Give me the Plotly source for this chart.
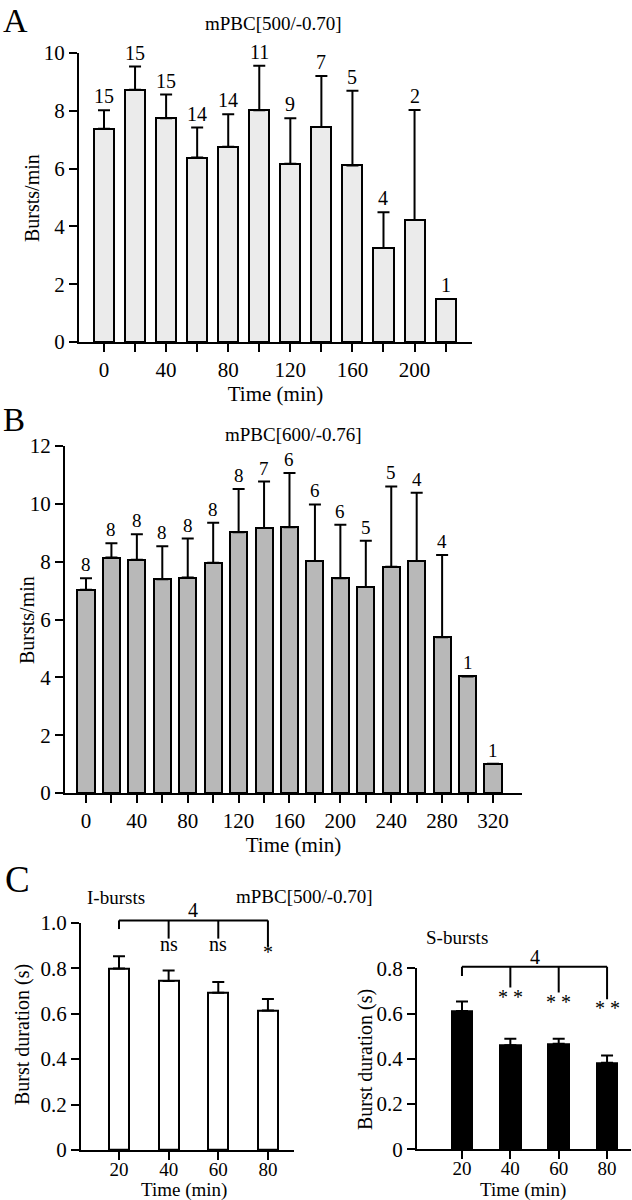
import plotly.graph_objects as go

FONT = "Liberation Serif"

# Panel A: mPBC[500/-0.70], burst rate over time
a_time = [0, 20, 40, 60, 80, 100, 120, 140, 160, 180, 200, 220]
a_rate = [7.38, 8.73, 7.74, 6.38, 6.76, 8.02, 6.17, 7.44, 6.11, 3.25, 4.22, 1.49]
a_sem = [0.64, 0.80, 0.82, 1.04, 1.12, 1.54, 1.57, 1.76, 2.58, 1.24, 3.81, 0]
a_n = [15, 15, 15, 14, 14, 11, 9, 7, 5, 4, 2, 1]

# Panel B: mPBC[600/-0.76]
b_time = [0, 20, 40, 60, 80, 100, 120, 140, 160, 180, 200, 220, 240, 260, 280, 300, 320]
b_rate = [7.03, 8.14, 8.07, 7.39, 7.45, 7.96, 9.02, 9.16, 9.19, 8.02, 7.43, 7.12, 7.82, 8.02, 5.39, 4.03, 1.01]
b_sem = [0.40, 0.50, 0.88, 1.14, 1.35, 1.39, 1.49, 1.61, 1.88, 1.96, 1.85, 1.60, 2.78, 2.36, 2.84, 0, 0]
b_n = [8, 8, 8, 8, 8, 8, 8, 7, 6, 6, 6, 5, 5, 4, 4, 1, 1]

# Panel C: burst duration, mPBC[500/-0.70]
c_time = [20, 40, 60, 80]
i_dur = [0.798, 0.743, 0.692, 0.614]
i_sem = [0.054, 0.047, 0.047, 0.050]
i_sig = ["", "ns", "ns", "*"]
i_sig_y = [0, 0.905, 0.905, 0.872]
i_top, i_drop = 1.01, [0.972, 0.93, 0.93, 0.894]
s_dur = [0.611, 0.460, 0.466, 0.382]
s_sem = [0.042, 0.029, 0.023, 0.033]
s_sig = ["", "* *", "* *", "* *"]
s_sig_y = [0, 0.672, 0.650, 0.623]
s_top, s_drop = 0.807, [0.766, 0.715, 0.693, 0.663]
c_n = 4

W, H = 632, 1200


def px(x):
    return x / W


def py(y):
    return 1 - y / H


def bars(x, y, sem, color, width, xa, ya):
    return go.Bar(
        x=x, y=y, width=width, xaxis=xa, yaxis=ya,
        marker=dict(color=color, line=dict(color="black", width=2)),
        error_y=dict(type="data", symmetric=False, array=sem,
                     arrayminus=[0] * len(sem), color="black",
                     thickness=2, width=6, visible=True),
        showlegend=False, hoverinfo="x+y",
    )


def bracket_trace(top, drops, xa, ya):
    xs, ys = [c_time[0], c_time[-1], None], [top, top, None]
    for t, d in zip(c_time, drops):
        xs += [t, t, None]
        ys += [top, d, None]
    return go.Scatter(x=xs, y=ys, mode="lines", xaxis=xa, yaxis=ya,
                      line=dict(color="black", width=2),
                      showlegend=False, hoverinfo="skip")


fig = go.Figure()
fig.add_trace(bars(a_time, a_rate, a_sem, "#ebebeb", 12.9, "x", "y"))
fig.add_trace(bars(b_time, b_rate, b_sem, "#b8b8b8", 13.4, "x2", "y2"))
fig.add_trace(bars(c_time, i_dur, i_sem, "white", 8.0, "x3", "y3"))
fig.add_trace(bars(c_time, s_dur, s_sem, "black", 8.6, "x4", "y4"))
# brackets sit on invisible overlay axes so they are not clipped at the top of the y range
fig.add_trace(bracket_trace(i_top, i_drop, "x5", "y5"))
fig.add_trace(bracket_trace(s_top, s_drop, "x6", "y6"))

axis_common = dict(
    showline=True, linecolor="black", linewidth=2, ticks="outside",
    ticklen=8, tickwidth=2, tickcolor="black", showgrid=False,
    zeroline=False, tickfont=dict(family=FONT, size=21, color="black"),
    fixedrange=True, automargin=False,
)
xtitle = dict(text="Time (min)", font=dict(family=FONT, size=21, color="black"), standoff=1)
# panel C x axes are tight against the bottom edge: smaller labels, title as annotation
c_xaxis = dict(axis_common, tickfont=dict(family=FONT, size=19, color="black"),
               ticklabelstandoff=-7, tickvals=c_time)
hidden = dict(visible=False, fixedrange=True, automargin=False)


def lab(vals, step):
    return [str(v) if v % step == 0 else "" for v in vals]


# pixel geometry of C panels (y of 0 and of top tick)
c3_y0, c3_y1, c3_top = 1150, 922.7, 1.0
c4_y0, c4_y1, c4_top = 1149.3, 968.3, 0.8
ov_top = 870
c3_scale = (c3_y0 - c3_y1) / c3_top
c4_scale = (c4_y0 - c4_y1) / c4_top

fig.update_layout(
    width=W, height=H, autosize=False,
    margin=dict(l=0, r=0, t=0, b=0, pad=0, autoexpand=False),
    paper_bgcolor="white", plot_bgcolor="rgba(0,0,0,0)",
    font=dict(family=FONT, color="black"),
    bargap=0,
    xaxis=dict(axis_common, domain=[px(79), px(472)], range=[-16.1, 237],
               anchor="y", tickvals=a_time, ticktext=lab(a_time, 40), title=xtitle),
    yaxis=dict(axis_common, domain=[py(342), py(53)], range=[0, 10],
               anchor="x", tickvals=[0, 2, 4, 6, 8, 10]),
    xaxis2=dict(axis_common, domain=[px(65), px(522)], range=[-16.5, 342.8],
                anchor="y2", tickvals=b_time, ticktext=lab(b_time, 40), title=xtitle),
    yaxis2=dict(axis_common, domain=[py(793), py(446)], range=[0, 12],
                anchor="x2", tickvals=[0, 2, 4, 6, 8, 10, 12]),
    xaxis3=dict(c_xaxis, domain=[px(81), px(294)], range=[4.7, 90.5], anchor="y3"),
    yaxis3=dict(axis_common, domain=[py(c3_y0), py(c3_y1)], range=[0, c3_top],
                anchor="x3", tickvals=[0, 0.2, 0.4, 0.6, 0.8, 1.0],
                ticktext=["0", "0.2", "0.4", "0.6", "0.8", "1.0"]),
    xaxis4=dict(c_xaxis, domain=[px(417), px(631)], range=[1.4, 89.9], anchor="y4"),
    yaxis4=dict(axis_common, domain=[py(c4_y0), py(c4_y1)], range=[0, c4_top],
                anchor="x4", tickvals=[0, 0.2, 0.4, 0.6, 0.8],
                ticktext=["0", "0.2", "0.4", "0.6", "0.8"]),
    xaxis5=dict(hidden, domain=[px(81), px(294)], range=[4.7, 90.5], anchor="y5"),
    yaxis5=dict(hidden, domain=[py(c3_y0), py(ov_top)],
                range=[0, (c3_y0 - ov_top) / c3_scale], anchor="x5"),
    xaxis6=dict(hidden, domain=[px(417), px(631)], range=[1.4, 89.9], anchor="y6"),
    yaxis6=dict(hidden, domain=[py(c4_y0), py(ov_top)],
                range=[0, (c4_y0 - ov_top) / c4_scale], anchor="x6"),
)

ann = []


def n_labels(x, y, sem, n, xr, yr, size):
    for xi, yi, si, ni in zip(x, y, sem, n):
        ann.append(dict(x=xi, y=yi + si, xref=xr, yref=yr, text=str(ni),
                        showarrow=False, yanchor="bottom", yshift=1,
                        font=dict(family=FONT, size=size, color="black")))


n_labels(a_time, a_rate, a_sem, a_n, "x", "y", 20)
n_labels(b_time, b_rate, b_sem, b_n, "x2", "y2", 19)


def sig_labels(sigs, sig_y, n_y, xr, yr):
    for t, s, sy in zip(c_time, sigs, sig_y):
        if s:
            ann.append(dict(x=t, y=sy, xref=xr, yref=yr, text=s, showarrow=False,
                            font=dict(family=FONT, size=20, color="black")))
    ann.append(dict(x=50, y=n_y, xref=xr, yref=yr, text=str(c_n), showarrow=False,
                    font=dict(family=FONT, size=20, color="black")))


sig_labels(i_sig, i_sig_y, 1.058, "x5", "y5")
sig_labels(s_sig, s_sig_y, 0.852, "x6", "y6")

texts = [
    ("A", 1, 21, 34, 0),
    ("B", 1, 420, 33, 0),
    ("C", 3, 879, 37, 0),
    ("mPBC[500/-0.70]", 273, 23, 19, 0),
    ("mPBC[600/-0.76]", 293, 434, 19, 0),
    ("mPBC[500/-0.70]", 304, 896, 19, 0),
    ("I-bursts", 116, 897, 19, 0),
    ("S-bursts", 457, 937, 19, 0),
    ("Bursts/min", 32, 198, 20, -90),
    ("Bursts/min", 27, 620, 20, -90),
    ("Burst duration (s)", 22, 1035, 20, -90),
    ("Burst duration (s)", 365, 1060, 20, -90),
    ("Time (min)", 184, 1190, 19, 0),
    ("Time (min)", 523, 1190, 19, 0),
]
for t, x, y, s, ang in texts:
    ann.append(dict(x=px(x), y=py(y), xref="paper", yref="paper", text=t,
                    showarrow=False, textangle=ang,
                    xanchor="left" if len(t) == 1 else "center", yanchor="middle",
                    font=dict(family=FONT, size=s, color="black")))

fig.update_layout(annotations=ann)

fig.write_html("out.html", config={"displayModeBar": False},
               post_script="document.body.style.margin='0';")
